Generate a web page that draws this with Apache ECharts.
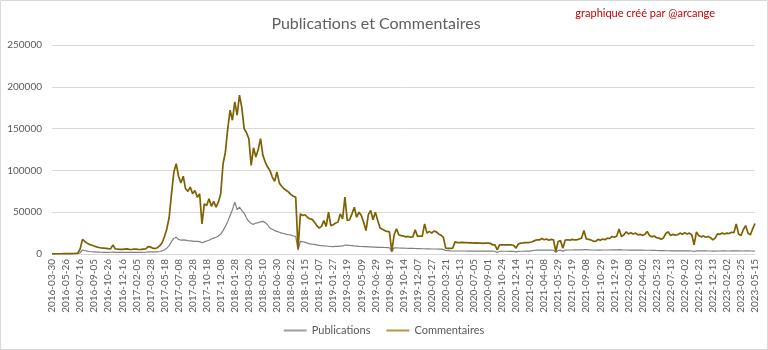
<!DOCTYPE html>
<html><head><meta charset="utf-8">
<script src="https://cdn.jsdelivr.net/npm/echarts@6/dist/echarts.min.js"></script>
<style>html,body{margin:0;padding:0;background:#fff}#c{width:768px;height:350px}</style>
</head><body><div id="c"></div>
<script>
// Tick label dates shown on the x axis (every 6th category)
const labelDates = [
'2016-03-30','2016-05-26','2016-07-16','2016-09-05','2016-10-26','2016-12-16',
'2017-02-05','2017-03-28','2017-05-18','2017-07-08','2017-08-28','2017-10-18','2017-12-08',
'2018-01-28','2018-03-20','2018-05-10','2018-06-30','2018-08-22','2018-10-15','2018-12-07',
'2019-01-27','2019-03-19','2019-05-09','2019-06-29','2019-08-19','2019-10-14','2019-12-07',
'2020-01-27','2020-03-21','2020-05-13','2020-07-05','2020-09-01','2020-10-24','2020-12-14',
'2021-02-15','2021-04-08','2021-05-29','2021-07-19','2021-09-08','2021-10-29','2021-12-19',
'2022-02-08','2022-04-02','2022-05-23','2022-07-13','2022-09-02','2022-10-23','2022-12-13',
'2023-02-02','2023-03-25','2023-05-15'
];
const yTicks = [0, 50000, 100000, 150000, 200000, 250000];

// Values, 6 samples per label interval
const publications = [
100,120,150,170,200,200,200,220,250,270,
300,500,1500,4800,4200,3500,3000,2700,2500,2300,
2200,2100,2000,2000,2000,2100,2300,2000,1900,1900,
1900,2000,2000,1900,1900,2000,2000,2000,2000,2100,
2100,2600,2600,2500,2500,2600,3000,3800,5000,7000,
10000,15000,18800,20000,17500,16500,17000,16500,16000,15800,
15500,15200,15000,14800,13500,14500,15500,16500,18000,19000,
20000,21500,24000,28000,33000,39000,46000,53000,62000,53000,
56000,52000,49000,43000,39000,36500,35500,37000,37500,38500,
39000,37500,35000,31000,29500,28000,27000,26000,25000,24500,
23500,23000,22500,21500,21000,4500,15000,14700,14000,13000,
12200,11800,11500,11000,10300,10000,9800,9600,9300,9000,
8900,9100,9200,9500,9800,10500,10600,10200,10000,9700,
9500,9200,9000,8900,8800,8600,8500,8300,8200,8000,
8000,7900,7800,7700,7500,2800,7300,7300,7200,7100,
7000,6900,6800,6800,6700,6600,6500,6400,6300,6300,
6200,6100,6000,6000,6000,5900,5800,5500,4200,4000,
3700,3600,3600,3600,3600,3600,3600,3500,3500,3600,
3500,3500,3500,3400,3400,3400,3400,3400,3400,3300,
1800,3300,3300,3300,3300,3200,3200,3200,2500,3200,
3300,3300,3400,3400,3500,4000,4500,4600,4600,4700,
4700,4600,4600,4600,4500,2000,4300,4400,3500,4600,
4800,4800,4800,4900,4900,4900,4900,5300,5200,5000,
4800,4800,4800,4700,4700,4800,4800,4800,4800,4900,
4900,5000,5200,5000,4800,4800,4700,4700,4700,4600,
4600,4600,4600,4500,4500,4500,4400,4300,4200,4100,
4000,4000,3900,3900,3800,3800,3800,3700,3700,3700,
3700,3700,3700,3600,3000,3800,3800,3700,3700,3700,
3600,3600,3500,3500,3600,3600,3700,3700,3600,3600,
3700,3700,3800,3700,3600,3600,3700,3700,3600,3600,
3500
];
const commentaires = [
200,250,300,300,300,350,400,450,500,550,
600,1000,6000,17500,15000,13000,11500,10500,9500,8500,
7800,7200,7000,6800,6400,6200,11000,6000,5800,5500,
5600,5900,6200,5600,5400,6000,5800,5400,5500,5800,
6000,8800,8500,7000,6500,7500,10000,13500,21000,30000,
44000,72000,98000,108000,93000,85000,93000,78000,75000,80000,
72000,76000,68000,72000,36000,60000,58000,66000,57000,63000,
56000,62000,72000,108000,122000,150000,172000,160000,182000,166000,
190000,175000,150000,145000,138000,106000,127000,116000,125000,138000,
118000,110000,104000,100000,92000,87000,98000,85000,81000,78000,
76000,74000,71000,69000,68000,6000,48000,46000,47000,44000,
42000,41500,38000,34000,31000,33000,40000,33000,50000,34000,
35000,37000,38000,48000,42000,68000,40000,41000,48000,56000,
44000,50000,46000,38000,28000,47000,52000,41000,50000,40000,
31000,29500,28000,27000,26500,3000,23000,30000,23000,22000,
21500,20500,21000,20000,20500,29000,21000,21500,21000,36000,
25000,27000,25000,27500,26500,24000,22500,20000,7000,6800,
6800,7000,14500,13600,13600,13800,13500,13700,13300,13500,
13000,13200,12900,13100,12800,13000,12900,12800,11000,10800,
5000,10800,10800,11000,11000,10900,10800,10500,7000,12000,
13000,13200,13500,13600,14000,14700,16000,17000,16800,18500,
17000,18000,16500,17500,17000,3000,15000,16000,7000,16500,
17000,16500,17500,16800,17000,18000,19000,28000,18000,17500,
16800,15500,15000,17500,16500,18000,17000,19000,18500,21000,
20000,21500,30000,21000,22800,26500,24000,25500,24000,25000,
22800,23500,22000,23500,27000,22000,20500,21500,19500,19000,
17500,19500,24800,26500,22000,23500,22500,23000,25000,23500,
25500,24000,25000,23000,11000,26500,22000,20500,21500,20000,
21000,19500,16800,19000,24000,23500,25000,24000,25000,24500,
26000,25500,36000,24000,22000,29000,34000,25000,22800,30000,
36500
];

const PER = 6;
function buildCategories(labels){
  const out=[];
  for(let i=0;i<labels.length;i++){
    out.push(labels[i]);
    if(i<labels.length-1){
      const a=Date.parse(labels[i]+'T00:00:00Z'), b=Date.parse(labels[i+1]+'T00:00:00Z');
      const d=(b-a)/86400000;
      for(let j=1;j<PER;j++){
        out.push(new Date(a+Math.round(d*j/PER)*86400000).toISOString().slice(0,10));
      }
    }
  }
  return out;
}
const categories = buildCategories(labelDates);

const FONT = 'Lato';
const chart = echarts.init(document.getElementById('c'), null, {renderer:'canvas'});
chart.setOption({
  animation:false,
  backgroundColor:'#fff',
  textStyle:{fontFamily:FONT},
  title:{
    text:'Publications et Commentaires',
    left:371, top:11, textAlign:'center',
    textStyle:{fontFamily:FONT,fontSize:16,fontWeight:'normal',color:'#606060'}
  },
  graphic:[
    {type:'rect',shape:{x:0.5,y:0.5,width:767,height:349},style:{fill:'none',stroke:'#d9d9d9',lineWidth:1},silent:true},
    {type:'text',right:53,top:8,style:{text:'graphique créé par @arcange',fill:'#c00000',font:'11px Lato'}}
  ],
  legend:{
    bottom:9, left:'center', itemGap:16,
    icon:'rect', itemWidth:23, itemHeight:2,
    textStyle:{fontFamily:FONT,fontSize:11,color:'#595959'},
    data:['Publications','Commentaires']
  },
  grid:{left:52,right:13,top:45,bottom:96,containLabel:false},
  xAxis:{
    type:'category', data:categories, boundaryGap:false,
    axisLine:{lineStyle:{color:'#d9d9d9'}},
    axisTick:{show:false},
    axisLabel:{interval:PER-1,rotate:90,fontSize:10,color:'#595959',margin:5,fontFamily:FONT}
  },
  yAxis:{
    type:'value', min:yTicks[0], max:yTicks[yTicks.length-1], interval:yTicks[1]-yTicks[0],
    axisLine:{show:false}, axisTick:{show:false},
    splitLine:{lineStyle:{color:'#d9d9d9'}},
    axisLabel:{fontSize:10,color:'#595959',margin:10,fontFamily:FONT,formatter:v=>String(v)}
  },
  series:[
    {name:'Publications',type:'line',data:publications,showSymbol:false,
     lineStyle:{color:'#808080',width:1.2},itemStyle:{color:'#a0a0a0'}},
    {name:'Commentaires',type:'line',data:commentaires,showSymbol:false,
     lineStyle:{color:'#7f6000',width:1.7},itemStyle:{color:'#b8973a'}}
  ]
});
</script>
</body></html>
